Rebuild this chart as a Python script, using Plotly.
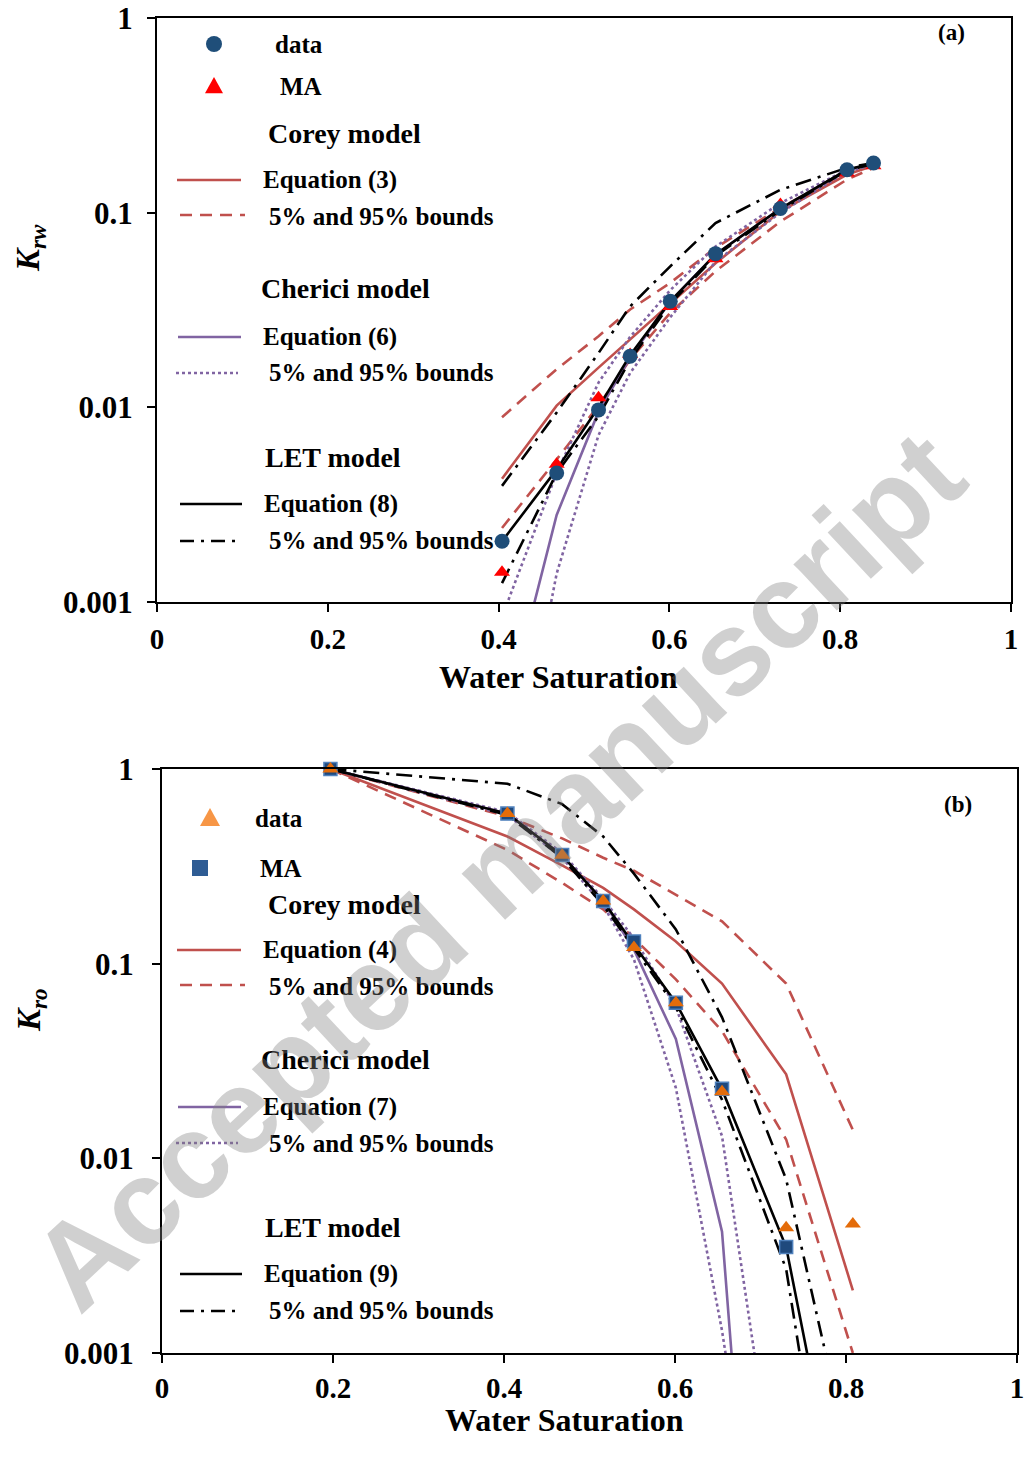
import plotly.graph_objects as go

W, H = 1026, 1458

# ---------------- Panel (a): water relative permeability ----------------
sw_a = [0.404, 0.468, 0.517, 0.554, 0.601, 0.654, 0.730, 0.808, 0.839]
krw_data = [0.00205, 0.0046, 0.0097, 0.0183, 0.0351, 0.0616, 0.105, 0.166, 0.180]
krw_ma = [0.00142, 0.0051, 0.0112, 0.0187, 0.033, 0.058, 0.110, 0.160, 0.174]
corey3 = [0.0043, 0.0102, 0.016, 0.0223, 0.0344, 0.055, 0.1016, 0.157, 0.174]
corey3_lo = [0.0024, 0.0054, 0.0102, 0.0176, 0.0306, 0.050, 0.090, 0.148, 0.170]
corey3_hi = [0.0089, 0.0157, 0.0232, 0.0318, 0.0436, 0.066, 0.106, 0.162, 0.176]
cherici6 = [0.00022, 0.0028, 0.0095, 0.018, 0.035, 0.061, 0.105, 0.165, 0.178]
cherici6_lo = [0.00005, 0.0014, 0.0072, 0.015, 0.029, 0.056, 0.100, 0.163, 0.176]
cherici6_hi = [0.00084, 0.0046, 0.0134, 0.023, 0.040, 0.067, 0.112, 0.166, 0.179]
let8 = [0.00205, 0.0048, 0.010, 0.0185, 0.035, 0.061, 0.105, 0.166, 0.180]
let8_lo = [0.00125, 0.0046, 0.009, 0.0175, 0.034, 0.060, 0.103, 0.165, 0.178]
let8_hi = [0.00395, 0.0094, 0.019, 0.033, 0.053, 0.0885, 0.131, 0.170, 0.180]

# ---------------- Panel (b): oil relative permeability ----------------
sw_b = [0.197, 0.404, 0.468, 0.516, 0.552, 0.601, 0.655, 0.730, 0.808]
kro_data = [1.0, 0.59, 0.36, 0.21, 0.121, 0.063, 0.022, 0.0044, 0.0046]
sw_b_ma = [0.197, 0.404, 0.468, 0.516, 0.552, 0.601, 0.655, 0.730]
kro_ma = [1.0, 0.59, 0.362, 0.21, 0.13, 0.063, 0.0228, 0.0035]
corey4 = [1.0, 0.45, 0.32, 0.245, 0.19, 0.13, 0.079, 0.027, 0.0021]
corey4_lo = [1.0, 0.384, 0.26, 0.19, 0.135, 0.083, 0.045, 0.0125, 0.001]
corey4_hi = [1.0, 0.57, 0.44, 0.35, 0.30, 0.226, 0.165, 0.079, 0.014]
cherici7 = [1.0, 0.59, 0.36, 0.21, 0.118, 0.041, 0.0042, 2.5e-7]
cherici7_lo = [1.0, 0.58, 0.35, 0.20, 0.105, 0.023, 0.0013, 1e-5]
cherici7_hi = [1.0, 0.60, 0.37, 0.215, 0.135, 0.060, 0.013, 8e-5]
let9 = [1.0, 0.59, 0.36, 0.21, 0.125, 0.063, 0.0226, 0.0035, 6.5e-5]
let9_lo = [1.0, 0.58, 0.35, 0.20, 0.12, 0.060, 0.020, 0.0027, 2e-5]
let9_hi = [1.0, 0.84, 0.66, 0.45, 0.29, 0.15, 0.053, 0.0078, 0.00024]

x_ticks = [0, 0.2, 0.4, 0.6, 0.8, 1]
x_ticktext = ["0", "0.2", "0.4", "0.6", "0.8", "1"]
y_ticks = [0.001, 0.01, 0.1, 1]
y_ticktext = ["0.001", "0.01", "0.1", "1"]

C_COREY = "#C0504D"
C_CHER = "#8064A2"
C_LET = "#000000"
DASH = "12px,8px"
DASHDOT = "16px,7px,3px,7px"
SERIF = "Liberation Serif"
LW = 2.6

fig = go.Figure()


def line(x, y, color, dash, xa, ya, width=LW):
    fig.add_trace(go.Scatter(x=x, y=y, mode="lines", xaxis=xa, yaxis=ya,
                             line=dict(color=color, dash=dash, width=width),
                             showlegend=False, hoverinfo="skip"))


# panel a lines
for ys, col, d in [(corey3, C_COREY, "solid"), (corey3_lo, C_COREY, DASH), (corey3_hi, C_COREY, DASH),
                   (cherici6, C_CHER, "solid"), (cherici6_lo, C_CHER, "dot"), (cherici6_hi, C_CHER, "dot"),
                   (let8, C_LET, "solid"), (let8_lo, C_LET, DASHDOT), (let8_hi, C_LET, DASHDOT)]:
    line(sw_a, ys, col, d, "x", "y")
fig.add_trace(go.Scatter(x=sw_a, y=krw_ma, mode="markers", xaxis="x", yaxis="y",
                         marker=dict(symbol="triangle-up", size=14, color="#FF0000"),
                         cliponaxis=False, showlegend=False))
fig.add_trace(go.Scatter(x=sw_a, y=krw_data, mode="markers", xaxis="x", yaxis="y",
                         marker=dict(symbol="circle", size=15, color="#1F4E79"),
                         cliponaxis=False, showlegend=False))

# panel b lines
for xs, ys, col, d in [(sw_b, corey4, C_COREY, "solid"), (sw_b, corey4_lo, C_COREY, DASH),
                       (sw_b, corey4_hi, C_COREY, DASH),
                       (sw_b_ma, cherici7, C_CHER, "solid"), (sw_b_ma, cherici7_lo, C_CHER, "dot"),
                       (sw_b_ma, cherici7_hi, C_CHER, "dot"),
                       (sw_b, let9, C_LET, "solid"), (sw_b, let9_lo, C_LET, DASHDOT),
                       (sw_b, let9_hi, C_LET, DASHDOT)]:
    line(xs, ys, col, d, "x2", "y2")
fig.add_trace(go.Scatter(x=sw_b_ma, y=kro_ma, mode="markers", xaxis="x2", yaxis="y2",
                         marker=dict(symbol="square", size=13, color="#1F497D",
                                     line=dict(color="#4F81BD", width=1.5)),
                         cliponaxis=False, showlegend=False))
fig.add_trace(go.Scatter(x=sw_b, y=kro_data, mode="markers", xaxis="x2", yaxis="y2",
                         marker=dict(symbol="triangle-up", size=14, color="#E46C0A"),
                         cliponaxis=False, showlegend=False))


def px(x):
    return x / W


def py(y):
    return 1 - y / H


xtickfont = dict(family=SERIF, size=29, color="black", weight="bold")
ytickfont = dict(family=SERIF, size=31, color="black", weight="bold")
common_x = dict(range=[0, 1], tickvals=x_ticks, ticktext=x_ticktext, showgrid=False, zeroline=False,
                showline=True, linecolor="black", linewidth=2, mirror=True, ticks="outside",
                ticklen=8, tickwidth=1.5, tickcolor="black", tickfont=xtickfont, ticklabelstandoff=2,
                automargin=False)
common_y = dict(type="log", range=[-3, 0], tickvals=y_ticks, ticktext=y_ticktext, showgrid=False,
                zeroline=False, showline=True, linecolor="black", linewidth=2, mirror=True,
                ticks="outside", ticklen=8, tickwidth=1.5, tickcolor="black", tickfont=ytickfont,
                ticklabelstandoff=8, automargin=False)

fig.update_layout(
    width=W, height=H, margin=dict(l=0, r=0, t=0, b=0, autoexpand=False),
    paper_bgcolor="white", plot_bgcolor="white", showlegend=False,
    xaxis=dict(domain=[px(157), px(1011)], anchor="y", **common_x),
    yaxis=dict(domain=[py(602), py(18)], anchor="x", **common_y),
    xaxis2=dict(domain=[px(162), px(1017)], anchor="y2", **{**common_x, "ticklabelstandoff": 0}),
    yaxis2=dict(domain=[py(1353), py(769)], anchor="x2", **{**common_y, "ticklabelstandoff": 12}),
)

annotations = []
shapes = []


def text(x, y, s, size=25, anchor="left", angle=0, family=SERIF, color="black", bold=True):
    annotations.append(dict(x=px(x), y=py(y), xref="paper", yref="paper", text=s, showarrow=False,
                            xanchor=anchor, yanchor="middle", textangle=angle,
                            font=dict(family=family, size=size, color=color,
                                      weight="bold" if bold else "normal")))


def hline(x0, x1, y, color, dash):
    shapes.append(dict(type="line", xref="paper", yref="paper", x0=px(x0), x1=px(x1), y0=py(y), y1=py(y),
                       line=dict(color=color, width=LW, dash=dash)))


def tri(cx, cy, r, color):
    path = f"M {px(cx - r)} {py(cy + r * 0.8)} L {px(cx + r)} {py(cy + r * 0.8)} L {px(cx)} {py(cy - r)} Z"
    shapes.append(dict(type="path", xref="paper", yref="paper", path=path, fillcolor=color,
                       line=dict(width=0)))


def circ(cx, cy, r, color):
    shapes.append(dict(type="circle", xref="paper", yref="paper", x0=px(cx - r), x1=px(cx + r),
                       y0=py(cy + r), y1=py(cy - r), fillcolor=color, line=dict(width=0)))


def sq(cx, cy, r, color):
    shapes.append(dict(type="rect", xref="paper", yref="paper", x0=px(cx - r), x1=px(cx + r),
                       y0=py(cy + r), y1=py(cy - r), fillcolor=color, line=dict(width=0)))


def legend(off, eqn):
    text(266, off + 134, "Corey model", size=28)
    hline(177, 241, off + 180, C_COREY, "solid")
    text(261, off + 180, f"Equation ({eqn[0]})")
    hline(180, 245, off + 215, C_COREY, DASH)
    text(267, off + 216, "5% and 95% bounds")
    text(259, off + 289, "Cherici model", size=28)
    hline(178, 241, off + 337, C_CHER, "solid")
    text(261, off + 337, f"Equation ({eqn[1]})")
    hline(176, 238, off + 373, C_CHER, "dot")
    text(267, off + 373, "5% and 95% bounds")
    text(263, off + 457, "LET model", size=28)
    hline(180, 242, off + 504, C_LET, "solid")
    text(262, off + 504, f"Equation ({eqn[2]})")
    hline(180, 236, off + 541, C_LET, "14px,7px,3px,7px")
    text(267, off + 540, "5% and 95% bounds")


# panel a legend
circ(214, 44, 8, "#1F4E79")
text(273, 44, "data")
tri(214, 86, 9, "#FF0000")
text(278, 86, "MA")
legend(0, ("3", "6", "8"))
# panel b legend
tri(210, 818, 10, "#F79646")
text(253, 818, "data")
sq(200, 868, 8, "#2E5C94")
text(258, 868, "MA")
legend(770, ("4", "7", "9"))

# panel labels
text(951, 33, "(a)", size=23, anchor="center")
text(958, 804, "(b)", size=23, anchor="center")

# axis titles
text(558, 677, "Water Saturation", size=32, anchor="center")
text(564, 1420, "Water Saturation", size=32, anchor="center")
text(31, 248, "<i>K</i><sub><i>rw</i></sub>", size=33, anchor="center", angle=-90)
text(31, 1010, "<i>K</i><sub><i>ro</i></sub>", size=33, anchor="center", angle=-90)

# watermark
annotations.append(dict(x=px(497), y=py(870), xref="paper", yref="paper", text="Accepted manuscript",
                        showarrow=False, xanchor="center", yanchor="middle", textangle=-43,
                        font=dict(family="Liberation Sans", size=120, color="rgba(128,128,128,0.37)",
                                  weight="bold")))

fig.update_layout(annotations=annotations, shapes=shapes)
fig.write_html("out.html", config={"displayModeBar": False},
               post_script="document.body.style.margin='0';document.body.style.overflow='hidden';")
